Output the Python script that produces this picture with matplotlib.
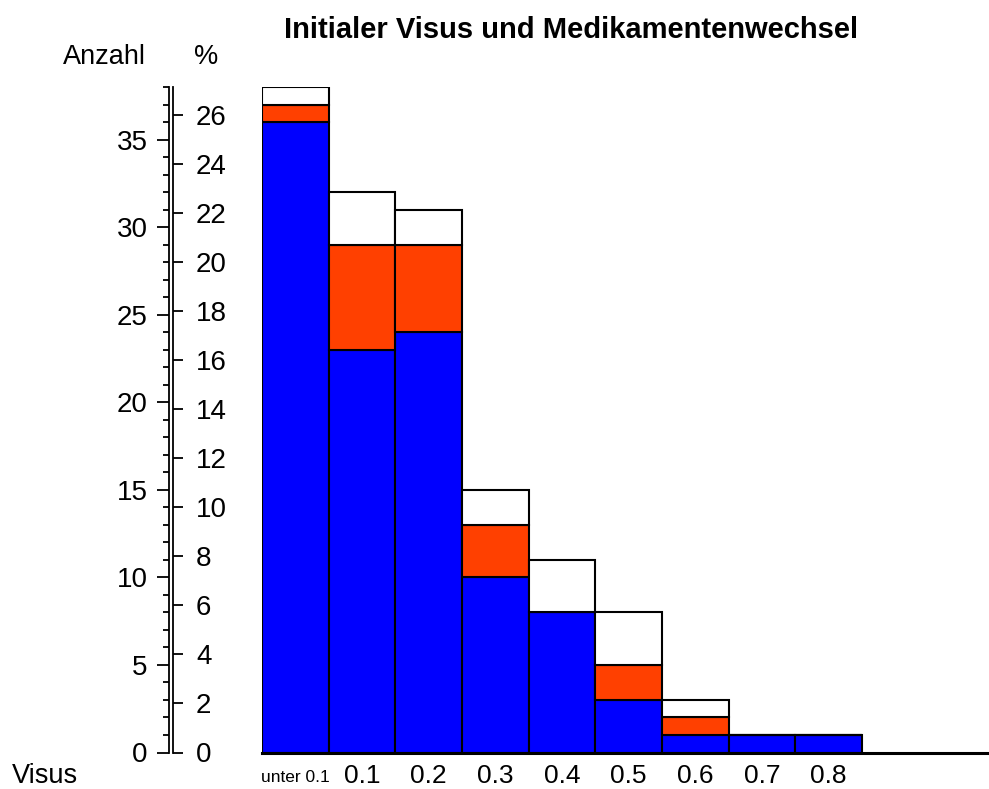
import matplotlib
matplotlib.use("Agg")
import matplotlib.pyplot as plt
import numpy as np
from matplotlib.ticker import MultipleLocator

categories = ["unter 0.1", "0.1", "0.2", "0.3", "0.4", "0.5", "0.6", "0.7", "0.8"]
blue_vals = [36, 23, 24, 10, 8, 3, 1, 1, 1]
red_vals = [1, 6, 5, 3, 0, 2, 1, 0, 0]
white_vals = [1, 3, 2, 2, 3, 3, 1, 0, 0]
total_n = 140

plt.rcParams['font.family'] = ['Liberation Sans', 'DejaVu Sans']

W, H = 989, 789
fig = plt.figure(figsize=(W / 100, H / 100), dpi=100)

def fx(px):
    return px / W

def fy(py):
    return 1 - py / H

y0, ytop = 752.5, 87.3
ymax = 38
bot = fy(y0)
hgt = fy(ytop) - fy(y0)

# main bar axes
ax = fig.add_axes([fx(262), bot, fx(988) - fx(262), hgt])
x = np.arange(len(categories)) + 0.5
blue = np.array(blue_vals)
red = np.array(red_vals)
white = np.array(white_vals)
ec = dict(edgecolor='black', linewidth=1.5, width=1.0)
ax.bar(x, blue, color='#0000FF', **ec)
ax.bar(x, red, bottom=blue, color='#FF4000', **ec)
ax.bar(x, white, bottom=blue + red, color='white', **ec)
ax.set_xlim(0, (988 - 262) / 66.67)
ax.set_ylim(0, ymax)
for s in ['left', 'right', 'top']:
    ax.spines[s].set_visible(False)
ax.spines['bottom'].set_linewidth(2.2)
ax.set_yticks([])
ax.set_xticks([])
narrow = ['Liberation Sans Narrow', 'Liberation Sans']
for xi, lab in zip(x, categories):
    if lab == "unter 0.1":
        ax.text(xi, -1.4, lab, ha='center', va='center', fontsize=12.5,
                fontfamily=narrow)
    else:
        ax.text(xi, -1.35, lab, ha='center', va='center', fontsize=19,
                fontfamily=narrow)

# count axis
axc = fig.add_axes([fx(169), bot, 0.001, hgt])
axc.set_ylim(0, ymax)
axc.patch.set_visible(False)
for s in ['right', 'top', 'bottom']:
    axc.spines[s].set_visible(False)
axc.spines['left'].set_linewidth(1.3)
axc.set_xticks([])
axc.yaxis.set_minor_locator(MultipleLocator(1))
axc.set_yticks(np.arange(0, 36, 5))
axc.tick_params(axis='y', which='major', direction='out', length=8.5, width=1.3,
                labelsize=20, pad=7)
axc.tick_params(axis='y', which='minor', direction='out', length=4, width=1.3)

# percent axis
axp = fig.add_axes([fx(172), bot, 0.001, hgt])
axp.set_ylim(0, ymax * 100 / total_n)
axp.patch.set_visible(False)
for s in ['left', 'top', 'bottom']:
    axp.spines[s].set_visible(False)
axp.spines['right'].set_linewidth(1.3)
axp.set_xticks([])
axp.yaxis.tick_right()
axp.set_yticks(np.arange(0, 27, 2))
axp.tick_params(axis='y', which='major', direction='out', length=7.5, width=1.3,
                labelsize=20, pad=9)

fig.text(fx(104), fy(57), "Anzahl", ha='center', va='center', fontsize=19.5)
fig.text(fx(206), fy(57), "%", ha='center', va='center', fontsize=19.5)
fig.text(fx(45), fy(776), "Visus", ha='center', va='center', fontsize=19.5)
fig.text(fx(571), fy(30), "Initialer Visus und Medikamentenwechsel",
         ha='center', va='center', fontsize=21, fontweight='bold')

fig.savefig("out.png", dpi=100)
